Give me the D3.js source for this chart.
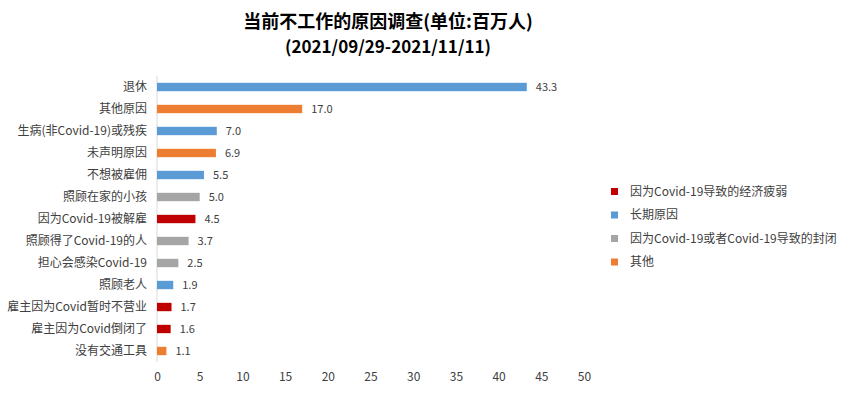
<!DOCTYPE html>
<html>
<head>
<meta charset="utf-8">
<script src="https://cdn.jsdelivr.net/npm/d3@7"></script>
<style>
  body { margin: 0; background: #fff; }
  text { font-family: "Noto Sans CJK SC", "Open Sans", sans-serif; }
</style>
</head>
<body>
<svg id="chart"></svg>
<script>
var categories = ['退休', '其他原因', '生病(非Covid-19)或残疾', '未声明原因', '不想被雇佣', '照顾在家的小孩',
  '因为Covid-19被解雇', '照顾得了Covid-19的人', '担心会感染Covid-19', '照顾老人',
  '雇主因为Covid暂时不营业', '雇主因为Covid倒闭了', '没有交通工具']
var values = [43.3, 17.0, 7.0, 6.9, 5.5, 5.0, 4.5, 3.7, 2.5, 1.9, 1.7, 1.6, 1.1]
// 0 经济疲弱, 1 长期原因, 2 封闭, 3 其他
var groups = [1, 3, 1, 3, 1, 2, 0, 2, 2, 1, 0, 0, 3]
var legendLabels = ['因为Covid-19导致的经济疲弱', '长期原因', '因为Covid-19或者Covid-19导致的封闭', '其他']
var xTicks = [0, 5, 10, 15, 20, 25, 30, 35, 40, 45, 50]

var w = 867,
  h = 393,
  colors = ['#c00000', '#5b9bd5', '#a5a5a5', '#ed7d31']

var svg = d3.select('#chart').attr('width', w).attr('height', h)

svg.append('text')
  .attr('x', 388).attr('y', 28)
  .attr('text-anchor', 'middle')
  .attr('font-size', 18).attr('font-weight', 'bold')
  .text('当前不工作的原因调查(单位:百万人)')
svg.append('text')
  .attr('x', 388).attr('y', 53)
  .attr('text-anchor', 'middle')
  .attr('font-size', 17).attr('font-weight', 'bold')
  .text('(2021/09/29-2021/11/11)')

var x = d3.scaleLinear().domain([0, 50]).range([157, 584])
var y = d3.scaleBand().domain(categories).range([76, 362]).paddingInner(0.62).paddingOuter(0.31)

// category axis line
svg.append('line')
  .attr('x1', x(0)).attr('x2', x(0))
  .attr('y1', 76).attr('y2', 362)
  .attr('stroke', '#d9d9d9')

svg.append('g')
  .selectAll('rect')
  .data(values)
  .join('rect')
  .attr('x', x(0))
  .attr('y', (d, i) => y(categories[i]))
  .attr('width', d => x(d) - x(0))
  .attr('height', y.bandwidth())
  .attr('fill', (d, i) => colors[groups[i]])

svg.append('g')
  .selectAll('text')
  .data(values)
  .join('text')
  .attr('x', d => x(d) + 9)
  .attr('y', (d, i) => y(categories[i]) + y.bandwidth() / 2)
  .attr('dy', '0.35em')
  .attr('font-size', 11)
  .attr('fill', '#404040')
  .text(d => d.toFixed(1))

svg.append('g')
  .selectAll('text')
  .data(categories)
  .join('text')
  .attr('x', 147)
  .attr('y', d => y(d) + y.bandwidth() / 2)
  .attr('dy', '0.35em')
  .attr('text-anchor', 'end')
  .attr('font-size', 12)
  .attr('fill', '#404040')
  .text(d => d)

// value axis, no line
var xAxis = svg.append('g')
  .attr('transform', 'translate(0,372)')
  .call(d3.axisBottom(x).tickValues(xTicks).tickSize(0).tickPadding(0))
xAxis.select('.domain').remove()
xAxis.selectAll('text')
  .attr('dy', '0.71em')
  .attr('font-size', 12)
  .attr('fill', '#404040')

var legend = svg.append('g')
  .selectAll('g')
  .data(legendLabels)
  .join('g')
  .attr('transform', (d, i) => 'translate(611,' + (192 + i * 23.5) + ')')
legend.append('rect')
  .attr('x', 0).attr('y', -4)
  .attr('width', 7).attr('height', 7)
  .attr('fill', (d, i) => colors[i])
legend.append('text')
  .attr('x', 19)
  .attr('dy', '0.32em')
  .attr('font-size', 12)
  .attr('fill', '#404040')
  .text(d => d)
</script>
</body>
</html>
